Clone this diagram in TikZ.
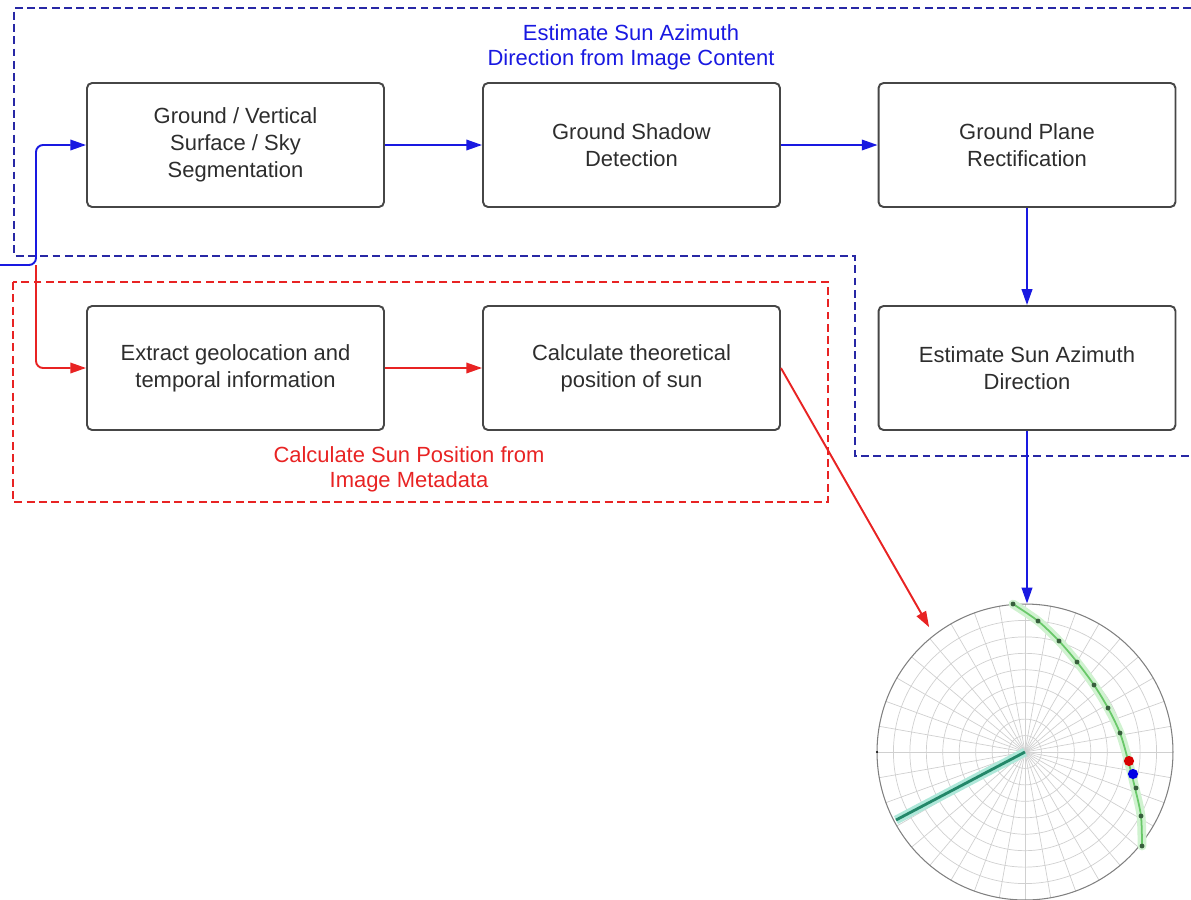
\documentclass[tikz,border=0pt]{standalone}
\usepackage{fontspec}
\setmainfont{Liberation Sans}
\usetikzlibrary{arrows.meta}
\definecolor{azul}{RGB}{25,25,225}
\definecolor{azulesc}{RGB}{40,40,165}
\definecolor{vermelho}{RGB}{232,35,35}
\definecolor{texto}{RGB}{45,45,45}
\definecolor{borda}{RGB}{70,70,70}
\definecolor{grade}{RGB}{208,208,208}
\definecolor{trilha}{RGB}{105,200,105}
\definecolor{halo}{RGB}{208,242,208}
\definecolor{pontos}{RGB}{55,95,60}
\definecolor{azimute}{RGB}{35,135,105}
\definecolor{haloaz}{RGB}{175,232,218}
\begin{document}
\begin{tikzpicture}[
                x=0.02cm, y=-0.02cm,
                caixa/.style={shape=rectangle, draw=borda, line width=1.1pt, rounded corners=0.1cm, minimum width=5.94cm, minimum height=2.48cm, align=center, text=texto, font=\fontsize{12.5}{15.4}\selectfont},
                rotulo/.style={align=center, font=\fontsize{12.5}{14.3}\selectfont},
                seta/.style={line width=1.1pt, -{Triangle[length=9pt, width=6pt]}},
                regiao/.style={line width=1pt, dash pattern=on 4.5pt off 2.5pt},
            ]
            \useasboundingbox (0,0) rectangle (1191,900);
            \draw[regiao, azulesc] (1191,8) -- (14,8) -- (14,256) -- (855,256) -- (855,456) -- (1191,456);
            \draw[regiao, vermelho] (13,282) rectangle (828,502);
            \node[rotulo, text=azul] (titazul) at (631,47) {Estimate Sun Azimuth\\Direction from Image Content};
            \node[rotulo, text=vermelho] (titverm) at (409,469) {Calculate Sun Position from\\Image Metadata};
            \node[caixa] (b1) at (235.5,145) {Ground / Vertical\\Surface / Sky\\Segmentation};
            \node[caixa] (b2) at (631.5,145) {Ground Shadow\\Detection};
            \node[caixa] (b3) at (1027,145) {Ground Plane\\Rectification};
            \node[caixa] (b4) at (235.5,368) {Extract geolocation and\\temporal information};
            \node[caixa] (b5) at (631.5,368) {Calculate theoretical\\position of sun};
            \node[caixa] (b6) at (1027,368) {Estimate Sun Azimuth\\Direction};
            \coordinate (centro) at (1025,752);
            \begin{scope}[shift={(centro)}]
                \foreach \r in {1,...,8}
                    \draw[grade, line width=0.4pt] (0,0) circle[radius=\r*0.329cm];
                \foreach \a in {0,10,...,350}
                    \draw[grade, line width=0.4pt] (0,0) -- (\a:2.96cm);
            \end{scope}
            \node[shape=circle, draw=gray, line width=0.6pt, minimum size=5.92cm, inner sep=0pt] (ceu) at (centro) {};
            \fill (877,752) circle[radius=0.7pt];
            \draw[halo, line width=5pt, line cap=round] plot[smooth] coordinates {(1013,604) (1038,621) (1059,641) (1077,662) (1094,685) (1108,708) (1120,733) (1128,760) (1135,788) (1141,816) (1142,846)};
            \draw[trilha, line width=1pt] plot[smooth] coordinates {(1013,604) (1038,621) (1059,641) (1077,662) (1094,685) (1108,708) (1120,733) (1128,760) (1135,788) (1141,816) (1142,846)};
            \foreach \p in {(1013,604),(1038,621),(1059,641),(1077,662),(1094,685),(1108,708),(1120,733),(1136,788),(1141,816),(1142,846)}
                \fill[pontos] \p circle[radius=1.4pt];
            \draw[haloaz, line width=5pt] (centro) -- (896,820);
            \draw[azimute, line width=1.6pt] (centro) -- (896,820);
            \fill[red!85!black] (1129,761) circle[radius=2.9pt];
            \fill[blue!90!black] (1133,774) circle[radius=2.9pt];
            \coordinate (entrada) at (0,265);
            \coordinate (ramo) at (36,265);
            \draw[seta, azul, rounded corners=4pt] (entrada) -- (ramo) |- (b1.west);
            \draw[seta, vermelho, rounded corners=4pt] (ramo) |- (b4.west);
            \draw[seta, azul] (b1.east) -- (b2.west);
            \draw[seta, azul] (b2.east) -- (b3.west);
            \draw[seta, azul] (b3.south) -- (b6.north);
            \draw[seta, azul] (b6.south) -- (b6.south |- ceu.north);
            \draw[seta, vermelho] (b4.east) -- (b5.west);
            \draw[seta, vermelho, shorten >=0.18cm] (b5.east) -- (ceu.128);
        \end{tikzpicture}
\end{document}
